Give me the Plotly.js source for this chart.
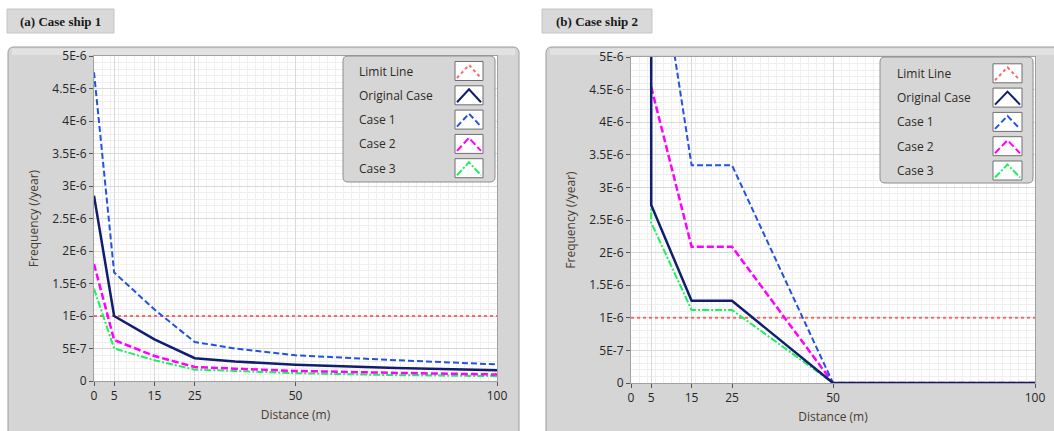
<!DOCTYPE html>
<html>
<head>
<meta charset="utf-8">
<script src="https://cdn.plot.ly/plotly-3.0.1.min.js"></script>
<style>html,body{margin:0;padding:0;background:#fff;}#chart{width:1054px;height:431px;}</style>
</head>
<body>
<div id="chart"></div>
<script>
// ---------- DATA ----------
const seriesNames = ['Limit Line', 'Original Case', 'Case 1', 'Case 2', 'Case 3'];
const panelTitles = ['(a) Case ship 1', '(b) Case ship 2'];

const xTickVals = [0, 5, 15, 25, 50, 100];
const xTickText = ['0', '5', '15', '25', '50', '100'];
const yTickVals = [0, 5e-7, 1e-6, 1.5e-6, 2e-6, 2.5e-6, 3e-6, 3.5e-6, 4e-6, 4.5e-6, 5e-6];
const yTickText = ['0', '5E-7', '1E-6', '1.5E-6', '2E-6', '2.5E-6', '3E-6', '3.5E-6', '4E-6', '4.5E-6', '5E-6'];

// Limit line (both ships)
const limitX = [0, 100];
const limitY = [1e-6, 1e-6];

// (a) Case ship 1
const shipA_x = [0, 5, 15, 25, 35, 50, 75, 100];
const shipA_original = [2.85e-6, 1.0e-6, 0.64e-6, 0.35e-6, 0.30e-6, 0.25e-6, 0.20e-6, 0.165e-6];
const shipA_case1 = [4.75e-6, 1.67e-6, 1.10e-6, 0.60e-6, 0.50e-6, 0.395e-6, 0.32e-6, 0.255e-6];
const shipA_case2 = [1.80e-6, 0.63e-6, 0.385e-6, 0.215e-6, 0.19e-6, 0.155e-6, 0.125e-6, 0.10e-6];
const shipA_case3 = [1.42e-6, 0.50e-6, 0.32e-6, 0.175e-6, 0.155e-6, 0.12e-6, 0.09e-6, 0.075e-6];

// (b) Case ship 2 (first values above 5E-6 are off-scale estimates)
const shipB_originalX = [5, 5, 15, 25, 50, 100];
const shipB_original = [8e-6, 2.73e-6, 1.26e-6, 1.26e-6, 0, 0];
const shipB_case1X = [5, 15, 25, 50, 100];
const shipB_case1 = [7.35e-6, 3.34e-6, 3.34e-6, 0, 0];
const shipB_case2X = [5, 15, 25, 50, 100];
const shipB_case2 = [4.54e-6, 2.09e-6, 2.09e-6, 0, 0];
const shipB_case3X = [5, 5, 15, 25, 50, 100];
const shipB_case3 = [8e-6, 2.46e-6, 1.12e-6, 1.12e-6, 0, 0];

// ---------- STYLE ----------
const W = 1054, H = 431;
const fx = p => p / W;
const fy = p => 1 - p / H;

const styles = {
  limit: {color: '#ff6666', width: 2, dash: '3px,3px'},
  original: {color: '#111d6e', width: 2.5, dash: 'solid'},
  case1: {color: '#2152e0', width: 2, dash: '6px,3px'},
  case2: {color: '#ff00ff', width: 2.5, dash: '7px,3px'},
  case3: {color: '#1cf05a', width: 2, dash: '7px,2px,2px,2px'}
};

function tr(x, y, st, name, xa, ya) {
  return {type: 'scatter', mode: 'lines', x: x, y: y, name: name,
          line: {color: st.color, width: st.width, dash: st.dash},
          xaxis: xa, yaxis: ya, hoverinfo: 'skip'};
}

const traces = [
  tr(limitX, limitY, styles.limit, seriesNames[0], 'x', 'y'),
  tr(shipA_x, shipA_case3, styles.case3, seriesNames[4], 'x', 'y'),
  tr(shipA_x, shipA_case2, styles.case2, seriesNames[3], 'x', 'y'),
  tr(shipA_x, shipA_case1, styles.case1, seriesNames[2], 'x', 'y'),
  tr(shipA_x, shipA_original, styles.original, seriesNames[1], 'x', 'y'),

  tr(limitX, limitY, styles.limit, seriesNames[0], 'x2', 'y2'),
  tr(shipB_case3X, shipB_case3, styles.case3, seriesNames[4], 'x2', 'y2'),
  tr(shipB_case2X, shipB_case2, styles.case2, seriesNames[3], 'x2', 'y2'),
  tr(shipB_case1X, shipB_case1, styles.case1, seriesNames[2], 'x2', 'y2'),
  tr(shipB_originalX, shipB_original, styles.original, seriesNames[1], 'x2', 'y2')
];

const tickFont = {family: 'Open Sans', size: 12, color: '#262626'};
const titleFont = {family: 'Open Sans', size: 12, color: '#4a3c30'};

function xAxis(domain, anchor) {
  return {
    domain: domain, anchor: anchor, range: [0, 100],
    tickmode: 'array', tickvals: xTickVals, ticktext: xTickText,
    ticks: 'outside', ticklen: 4, tickcolor: '#555', tickfont: tickFont,
    showgrid: true, gridcolor: '#d9d9d9', gridwidth: 1,
    minor: {tickmode: 'linear', tick0: 0, dtick: 2, showgrid: true, gridcolor: '#efefef', ticks: ''},
    showline: true, linecolor: '#a0a0a0', mirror: true, zeroline: false,
    title: {text: 'Distance (m)', font: titleFont, standoff: 7},
    fixedrange: true
  };
}
function yAxis(domain, anchor) {
  return {
    domain: domain, anchor: anchor, range: [0, 5e-6],
    tickmode: 'array', tickvals: yTickVals, ticktext: yTickText,
    ticks: 'outside', ticklen: 4, tickcolor: '#555', tickfont: tickFont,
    showgrid: true, gridcolor: '#d9d9d9', gridwidth: 1,
    minor: {tickmode: 'linear', tick0: 0, dtick: 1e-7, showgrid: true, gridcolor: '#efefef', ticks: ''},
    showline: true, linecolor: '#a0a0a0', mirror: true, zeroline: false,
    title: {text: 'Frequency (/year)', font: titleFont, standoff: 11},
    fixedrange: true
  };
}

// rounded rectangle path in paper coords
function rrect(x0, y0, x1, y1, r) {
  const X = fx, Y = fy;
  return 'M' + X(x0 + r) + ',' + Y(y0) +
    ' L' + X(x1 - r) + ',' + Y(y0) +
    ' Q' + X(x1) + ',' + Y(y0) + ' ' + X(x1) + ',' + Y(y0 + r) +
    ' L' + X(x1) + ',' + Y(y1 - r) +
    ' Q' + X(x1) + ',' + Y(y1) + ' ' + X(x1 - r) + ',' + Y(y1) +
    ' L' + X(x0 + r) + ',' + Y(y1) +
    ' Q' + X(x0) + ',' + Y(y1) + ' ' + X(x0) + ',' + Y(y1 - r) +
    ' L' + X(x0) + ',' + Y(y0 + r) +
    ' Q' + X(x0) + ',' + Y(y0) + ' ' + X(x0 + r) + ',' + Y(y0) + ' Z';
}

const shapes = [];
const annotations = [];

function rect(x0, y0, x1, y1, fill, lineColor, layer, lw) {
  shapes.push({type: 'rect', xref: 'paper', yref: 'paper', x0: fx(x0), x1: fx(x1), y0: fy(y1), y1: fy(y0),
    fillcolor: fill, line: {color: lineColor, width: lw === undefined ? 1 : lw}, layer: layer});
}

// panels
[[8, 47, 519, 445], [546, 47, 1070, 445]].forEach(p => {
  shapes.push({type: 'path', xref: 'paper', yref: 'paper', path: rrect(p[0], p[1], p[2], p[3], 6),
    fillcolor: '#d5d5d5', line: {color: '#9c9c9c', width: 1}, layer: 'below'});
  shapes.push({type: 'rect', xref: 'paper', yref: 'paper', x0: fx(p[0] + 4), x1: fx(p[2] - 4), y0: fy(p[1] + 8), y1: fy(p[1] + 1.5),
    fillcolor: '#e2e2e2', line: {width: 0}, layer: 'below'});
});
// plot area white backgrounds
rect(94, 56, 497, 381, '#ffffff', 'rgba(0,0,0,0)', 'below', 0);
rect(631, 57, 1035, 383, '#ffffff', 'rgba(0,0,0,0)', 'below', 0);

// panel title boxes
const titleBoxes = [[7, 9, 114, 33], [542, 9, 652, 33]];
titleBoxes.forEach((b, i) => {
  rect(b[0], b[1], b[2], b[3], '#d9d9d9', '#c4c4c4', 'below', 1);
  annotations.push({xref: 'paper', yref: 'paper', x: fx((b[0] + b[2]) / 2), y: fy((b[1] + b[3]) / 2),
    xanchor: 'center', yanchor: 'middle', showarrow: false, text: '<b>' + panelTitles[i] + '</b>',
    font: {family: 'Liberation Serif', size: 13, color: '#1a1a1a'}});
});

// legends (overlay boxes, text left, line sample right)
const legendStyles = [styles.limit, styles.original, styles.case1, styles.case2, styles.case3];
function legend(bx0, by0, bx1, by1, textX, rowY0, rowStep, swX0, swX1) {
  shapes.push({type: 'path', xref: 'paper', yref: 'paper', path: rrect(bx0, by0, bx1, by1, 5),
    fillcolor: '#d6d6d6', line: {color: '#8e8e8e', width: 1}, layer: 'above'});
  seriesNames.forEach((name, i) => {
    const cy = rowY0 + i * rowStep;
    annotations.push({xref: 'paper', yref: 'paper', x: fx(textX), y: fy(cy), xanchor: 'left', yanchor: 'middle',
      showarrow: false, text: name, font: {family: 'Open Sans', size: 12, color: '#2e2a26'}});
    rect(swX0, cy - 9.5, swX1, cy + 9.5, '#ffffff', '#6e6e6e', 'above', 1);
    const st = legendStyles[i];
    const m = (swX0 + swX1) / 2;
    shapes.push({type: 'path', xref: 'paper', yref: 'paper', layer: 'above',
      path: 'M' + fx(swX0 + 2) + ',' + fy(cy + 7) + ' L' + fx(m) + ',' + fy(cy - 6) + ' L' + fx(swX1 - 2) + ',' + fy(cy + 7),
      line: {color: st.color, width: Math.min(st.width, 2), dash: st.dash}});
  });
}
legend(343, 56, 495, 182, 357, 71, 24.3, 455, 483);
legend(880, 57, 1033, 183, 895, 73.3, 24.3, 993, 1022);

const layout = {
  width: W, height: H,
  margin: {l: 0, r: 0, t: 0, b: 0},
  paper_bgcolor: '#ffffff', plot_bgcolor: 'rgba(0,0,0,0)',
  showlegend: false,
  font: {family: 'Open Sans', size: 12, color: '#2b2b2b'},
  xaxis: xAxis([fx(94), fx(497)], 'y'),
  yaxis: yAxis([fy(381), fy(56)], 'x'),
  xaxis2: xAxis([fx(631), fx(1035)], 'y2'),
  yaxis2: yAxis([fy(383), fy(57)], 'x2'),
  shapes: shapes,
  annotations: annotations
};

Plotly.newPlot('chart', traces, layout, {staticPlot: true, displayModeBar: false});
</script>
</body>
</html>
